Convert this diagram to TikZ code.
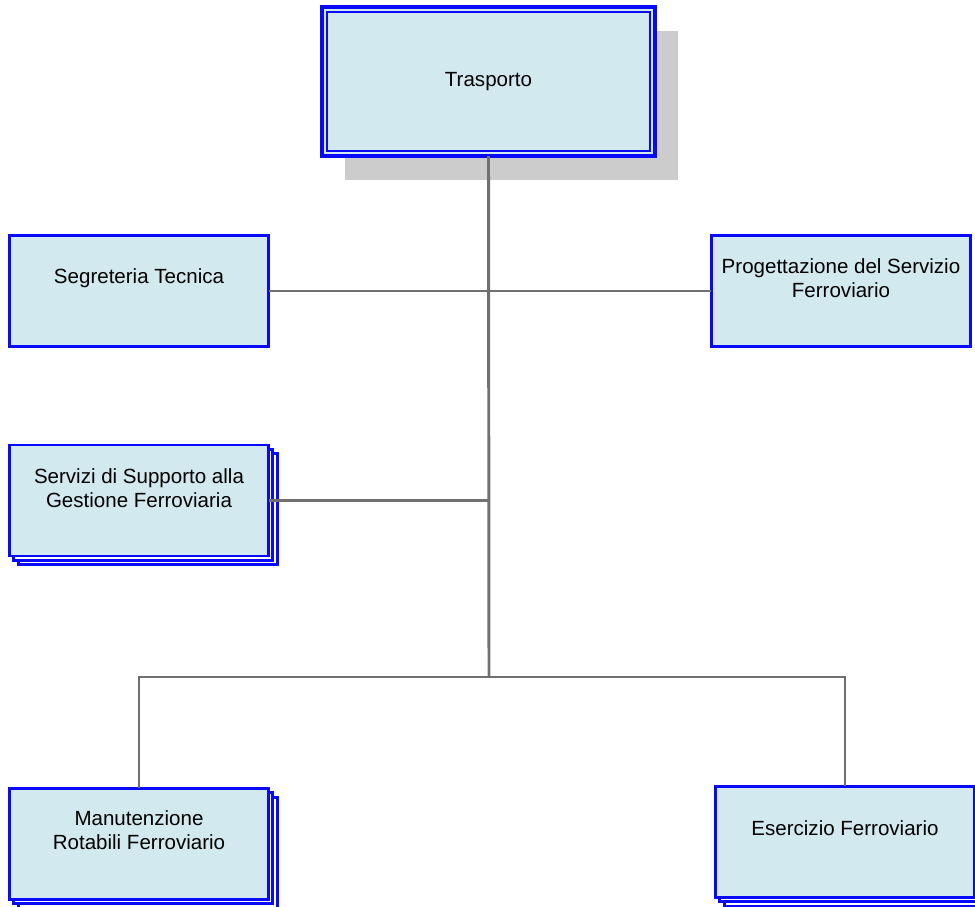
\documentclass[tikz,border=0pt]{standalone}
\usepackage{fontspec}
\setmainfont{Liberation Sans}
\usetikzlibrary{calc,shadows}
\definecolor{boxblue}{RGB}{10,10,250}
\definecolor{boxfill}{RGB}{210,233,239}
\definecolor{linegray}{RGB}{112,112,112}
\definecolor{shadegray}{RGB}{204,204,204}
\begin{document}
\begin{tikzpicture}[x=0.025cm, y=-0.025cm,
  unit/.style={draw=boxblue, fill=boxfill, line width=2.1pt, inner sep=0pt, outer sep=0pt,
    minimum width=6.475cm, minimum height=2.775cm},
  stacked/.style={unit, double copy shadow={shadow xshift=0.11cm, shadow yshift=-0.11cm,
    draw=boxblue, fill=white, line width=2.1pt}},
  caption/.style={align=center, font=\fontsize{14.6}{17}\selectfont},
  link/.style={draw=linegray, line width=2.1pt}]
% Fix the page size
\useasboundingbox (0,0) rectangle (975,907);

% Draw the head box with its shadow and double border
\node[unit, line width=2.6pt, minimum width=8.325cm, minimum height=3.725cm, caption,
  drop shadow={shadow xshift=0.58cm, shadow yshift=-0.6cm, fill=shadegray, opacity=1}]
  (top) at (488.5,81.5) {Trasporto};
\draw[boxblue, line width=1.4pt] ($(top.north west)+(5,5)$) rectangle ($(top.south east)+(-5,-5)$);

% Draw the boxes
\node[unit] (seg) at (139,291) {};
\node[unit] (prog) at (841,291) {};
\node[stacked] (serv) at (139,500.5) {};
\node[stacked] (man) at (139,844) {};
\node[stacked] (ese) at (845,842) {};

% Insert the texts
\node[caption] (segtxt) at ($(seg.north)+(0,43)$) {Segreteria Tecnica};
\node[caption] (progtxt) at ($(prog.north)+(0,43)$) {Progettazione del Servizio\\Ferroviario};
\node[caption] (servtxt) at ($(serv.north)+(0,43)$) {Servizi di Supporto alla\\Gestione Ferroviaria};
\node[caption] (mantxt) at ($(man.north)+(0,42)$) {Manutenzione\\Rotabili Ferroviario};
\node[caption] (esetxt) at ($(ese.north)+(0,42)$) {Esercizio Ferroviario};

% Draw the connectors
\coordinate (hub) at (489,677);
\draw[link] (top.south) -- (hub);
\draw[link] (seg.east) -- (prog.west);
\draw[link] (serv.east) -- (serv.east -| top.south);
\draw[link] (man.north) |- (hub) -| (ese.north);
\end{tikzpicture}
\end{document}
